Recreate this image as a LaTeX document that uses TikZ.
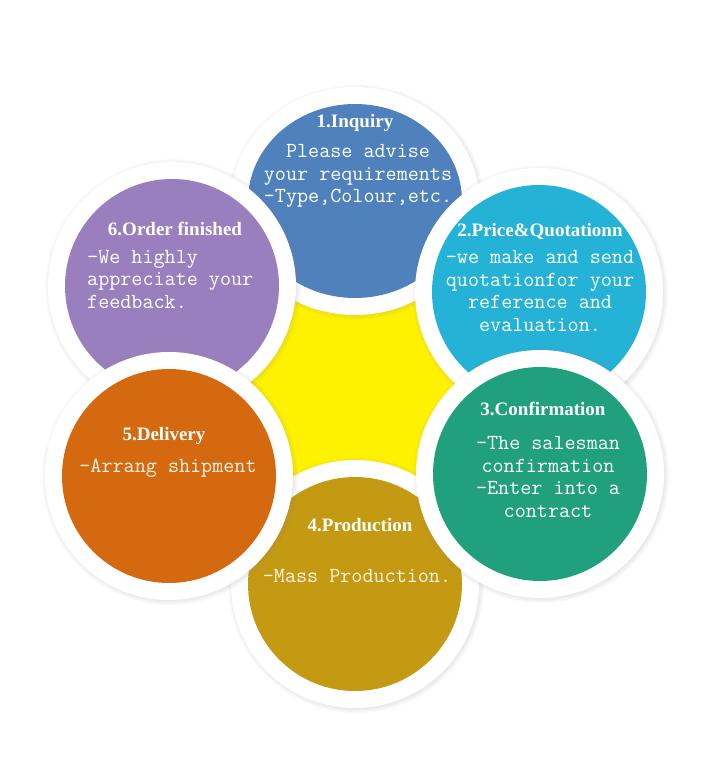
\documentclass[tikz,border=0pt]{standalone}
\usepackage{fontspec}
\setmainfont{Liberation Serif}
\usepackage{tikz}
\usetikzlibrary{shadows,shapes.geometric}
\definecolor{inqblue}{HTML}{4F81BD}
\definecolor{quoteblue}{HTML}{24B2D6}
\definecolor{confgreen}{HTML}{21A07E}
\definecolor{prodgold}{HTML}{C49A12}
\definecolor{delorange}{HTML}{D5690F}
\definecolor{finpurple}{HTML}{9A7FBE}
\definecolor{hubyellow}{HTML}{FFF200}
\definecolor{cream}{HTML}{FBF3E4}
\tikzset{
    hub/.style={circle,fill=hubyellow,minimum size=320pt,inner sep=0pt},
    ring/.style={ellipse,fill=white,minimum width=248pt,minimum height=#1,inner sep=0pt,
      circular drop shadow={shadow xshift=.8pt,shadow yshift=-.8pt,
        shadow scale=1.035,opacity=.55}},
    ring/.default=248pt,
    disc/.style={ellipse,minimum width=214pt,minimum height=#1,inner sep=0pt},
    disc/.default=214pt,
    steptitle/.style={text=white,font=\fontsize{19}{22}\selectfont\bfseries,inner sep=0pt},
    stepbody/.style={text=white,font=\fontsize{21.5}{22.5}\selectfont\ttfamily,
      align=center,inner sep=0pt}
}
\begin{document}
\begin{tikzpicture}[x=1pt,y=-1pt]
  \useasboundingbox[fill=white] (0,0) rectangle (720,762);
  \node[hub] (hub) at (355,390){};
  % rings, bottom one first
  \foreach \n/\cx/\cy/\h/\col in {4/355/584/214/prodgold,1/355/201/194/inqblue,
      6/172/286/214/finpurple,2/539/292/214/quoteblue,5/169/476/214/delorange,
      3/540/474/214/confgreen}{
    \node[ring=\h pt+34pt] (r\n) at (\cx,\cy){};
    \node[disc=\h pt,fill=\col] (c\n) at (\cx,\cy){};}
  \node[steptitle] (t1) at (355,123){1.Inquiry};
  \node[stepbody] (b1) at (358,176){Please advise\\your requirements\\-Type,Colour,etc.};
  \node[steptitle] (t2) at (540,231){2.Price\&Quotationn};
  \node[stepbody] (b2) at (540,291){-we make and send\\quotationfor your\\reference and\\evaluation.};
  \node[steptitle] (t3) at (543,409){3.Confirmation};
  \node[stepbody] (b3) at (548,477){-The salesman\\confirmation\\-Enter into a\\contract};
  \node[steptitle] (t4) at (360,525){4.Production};
  \node[stepbody,text=cream] (b4) at (357,576){-Mass Production.};
  \node[steptitle] (t5) at (164,436){5.Delivery};
  \node[stepbody,text=cream] (b5) at (168,468){-Arrang shipment};
  \node[steptitle] (t6) at (175,229){6.Order finished};
  \node[stepbody,align=left,anchor=west] (b6) at (87,279){-We highly\\appreciate your\\feedback.};
\end{tikzpicture}
\end{document}
